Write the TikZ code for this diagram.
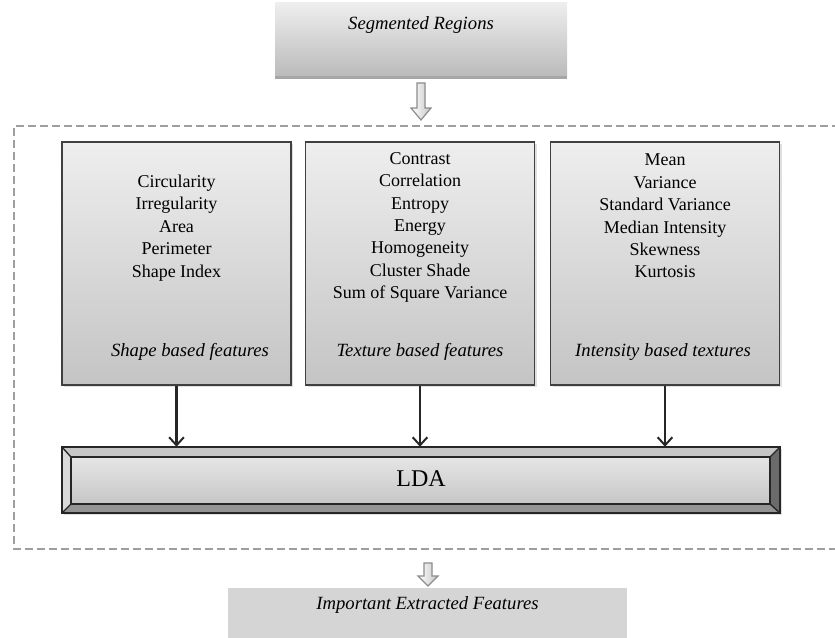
\documentclass[tikz,border=0pt]{standalone}
\usepackage{fontspec}
\setmainfont{Liberation Serif}
\usetikzlibrary{arrows.meta,shadows,calc}
\definecolor{boxtop}{HTML}{EEEEEE}
\definecolor{boxbot}{HTML}{C4C4C4}
\definecolor{edge}{HTML}{404040}
\tikzset{
  featbox/.style={draw=edge, line width=1.3pt, top color=boxtop, bottom color=boxbot,
    minimum width=229*0.75pt, minimum height=243*0.75pt, inner sep=0pt,
    drop shadow={shadow xshift=1.5pt, shadow yshift=-1.5pt, opacity=0.25}},
  feattext/.style={align=center, font=\fontsize{13.5}{16.8}\selectfont, inner sep=0pt},
  featlabel/.style={font=\fontsize{14}{16}\selectfont\itshape, inner sep=0pt},
  titlebox/.style={top color=boxtop, bottom color=boxbot!95!black, inner sep=0pt},
  arr/.style={-{Straight Barb[length=6pt,width=11pt,line width=1.5pt]}, line width=1.6pt, draw=black!85},
  hollow/.style={draw=gray!90, line width=0.9pt, left color=white, right color=gray!45, line join=miter},
}
\begin{document}
\begin{tikzpicture}[x=0.75pt,y=-0.75pt]
\useasboundingbox (0,0) rectangle (835,638);
\clip (0,0) rectangle (835,638);

% top box
\node[titlebox, minimum width=292*0.75pt, minimum height=74*0.75pt] (seg) at (421,40) {};
\draw[gray!70, line width=2pt] (seg.south west) -- (seg.south east);
\node[featlabel] (segt) at (421,25) {Segmented Regions};

% hollow arrow 1
\draw[hollow] (417,83) -- (425,83) -- (425,108) -- (431,108) -- (421,120) -- (411,108) -- (417,108) -- cycle;

% dashed frame
\draw[gray!75, line width=1pt, dash pattern=on 6pt off 3pt] (840,126) -- (14,126) -- (14,549) -- (840,549);

% feature boxes
\node[featbox] (b1) at (176.5,263.5) {};
\node[featbox] (b2) at (420,263.5) {};
\node[featbox] (b3) at (665,263.5) {};

\node[feattext] (t1) at (176.5,228) {Circularity\\Irregularity\\Area\\Perimeter\\Shape Index};
\node[feattext] (t2) at (420,227.5) {Contrast\\Correlation\\Entropy\\Energy\\Homogeneity\\Cluster Shade\\Sum of Square Variance};
\node[feattext] (t3) at (665,216) {Mean\\Variance\\Standard Variance\\Median Intensity\\Skewness\\Kurtosis};

\node[featlabel] (l1) at (190,352) {Shape based features};
\node[featlabel] (l2) at (420,352) {Texture based features};
\node[featlabel] (l3) at (663,352) {Intensity based textures};

% LDA bar
\node[minimum width=718*0.75pt, minimum height=66*0.75pt, inner sep=0pt,
      drop shadow={shadow xshift=1.5pt, shadow yshift=-1.5pt, opacity=0.25}, fill=gray] (lda) at (421,480) {};
\coordinate (o1) at (lda.north west);
\coordinate (o2) at (lda.north east);
\coordinate (o3) at (lda.south east);
\coordinate (o4) at (lda.south west);
\coordinate (i1) at ($(o1)+(9,10)$);
\coordinate (i2) at ($(o2)+(-10,10)$);
\coordinate (i3) at ($(o3)+(-10,-9)$);
\coordinate (i4) at ($(o4)+(9,-9)$);
\fill[gray!45] (o1) -- (o2) -- (i2) -- (i1) -- cycle;
\fill[gray!30] (o1) -- (i1) -- (i4) -- (o4) -- cycle;
\fill[black!58] (o2) -- (o3) -- (i3) -- (i2) -- cycle;
\fill[black!42] (o4) -- (o3) -- (i3) -- (i4) -- cycle;
\shade[top color=gray!20, bottom color=gray!45] (i1) rectangle (i3);
\draw[black!85, line width=1pt] (o1) -- (i1) (o2) -- (i2) (o3) -- (i3) (o4) -- (i4);
\draw[black!85, line width=1.2pt] (i1) rectangle (i3);
\draw[black!85, line width=1.2pt] (o1) rectangle (o3);
\node[font=\fontsize{18}{20}\selectfont, inner sep=0pt] (ldat) at (421,479) {LDA};

% arrows
\draw[arr] (b1.south) -- (b1.south |- lda.north);
\draw[arr] (b2.south) -- (b2.south |- lda.north);
\draw[arr] (b3.south) -- (b3.south |- lda.north);

% hollow arrow 2
\draw[hollow] (424,563) -- (432,563) -- (432,576) -- (438,576) -- (428,586) -- (418,576) -- (424,576) -- cycle;

% bottom box
\node[fill=gray!33, minimum width=399*0.75pt, minimum height=60*0.75pt, inner sep=0pt] (imp) at (427.5,618) {};
\node[featlabel] (impt) at (427.5,605) {Important Extracted Features};
\end{tikzpicture}
\end{document}
